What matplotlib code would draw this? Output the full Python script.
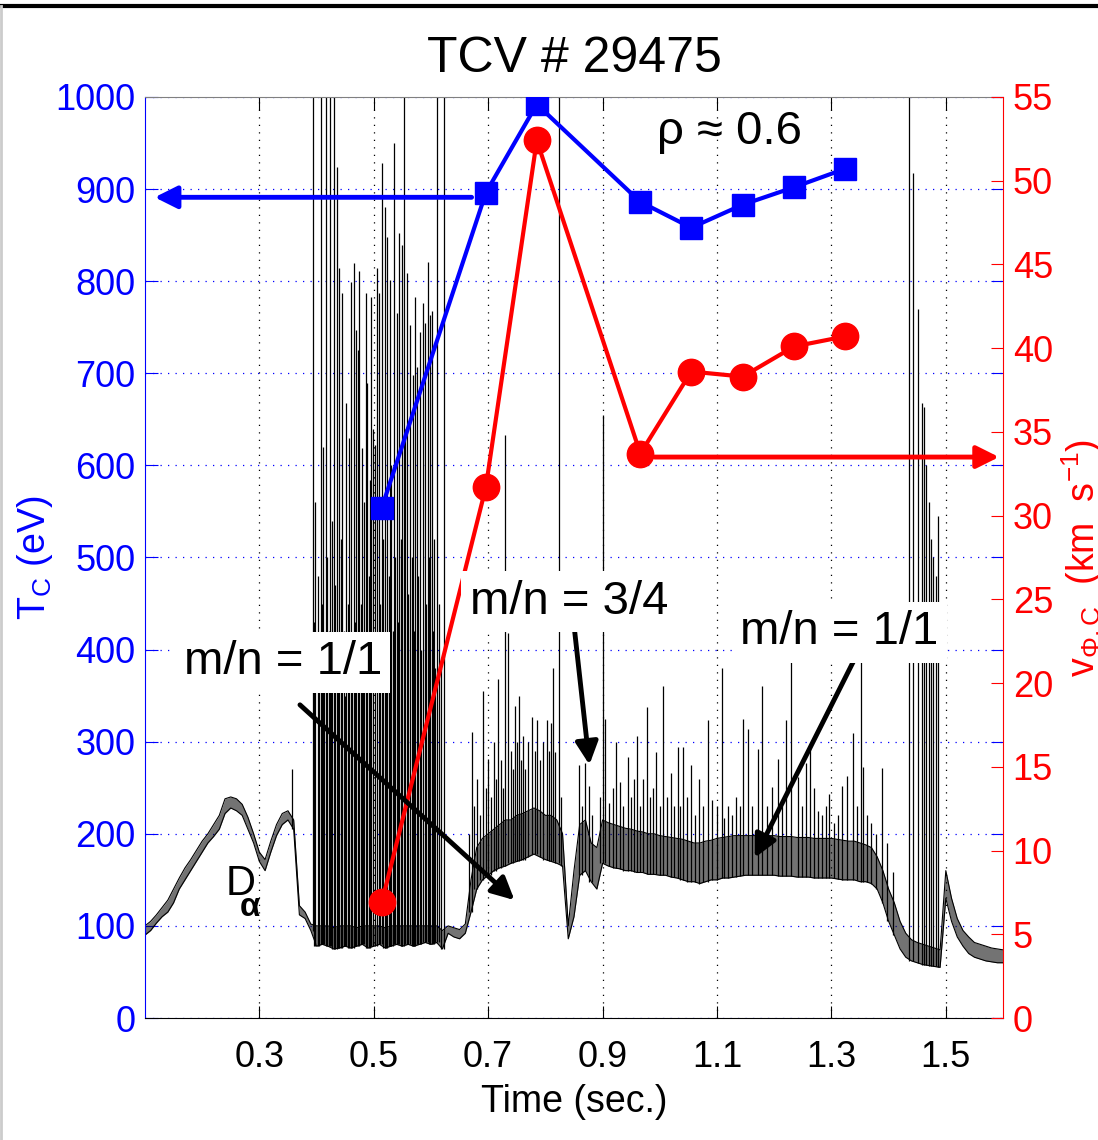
import numpy as np
import matplotlib.pyplot as plt
from matplotlib.lines import Line2D

plt.rcParams['font.family'] = ['Liberation Sans', 'DejaVu Sans']
plt.rcParams['mathtext.fontset'] = 'custom'
plt.rcParams['mathtext.rm'] = 'Liberation Sans'
plt.rcParams['mathtext.it'] = 'Liberation Sans'

# CXRS profile points at rho ~ 0.6
t_cxrs = [0.514, 0.696, 0.785, 0.966, 1.055, 1.145, 1.235, 1.324]
T_c = [554, 896, 992, 886, 858, 883, 902, 922]            # eV
v_phi = [6.9, 31.7, 52.4, 33.7, 38.6, 38.3, 40.1, 40.7]   # km/s

# D-alpha trace (arb. units, drawn on the eV scale), every 10 ms:
# lower and upper edge of the noisy signal band
da_t = np.round(np.arange(0.10, 1.605, 0.01), 2)
da_low = [90, 95, 103, 110, 115, 125, 140, 150, 160, 170,
          180, 190, 197, 205, 222, 228, 225, 220, 205, 190,
          170, 160, 180, 198, 210, 215, 205, 112, 108, 95,
          78, 80, 78, 75, 76, 78, 76, 78, 80, 76,
          78, 80, 76, 78, 80, 78, 80, 78, 80, 82,
          80, 82, 75, 92, 88, 86, 92, 115, 140, 150,
          155, 160, 163, 165, 168, 170, 172, 175, 178, 175,
          172, 170, 168, 165, 86, 110, 155, 160, 148, 140,
          168, 165, 163, 162, 160, 160, 158, 158, 156, 156,
          155, 155, 153, 152, 150, 148, 148, 146, 148, 150,
          150, 152, 152, 153, 154, 155, 155, 155, 155, 155,
          155, 154, 154, 154, 153, 153, 153, 152, 152, 152,
          152, 151, 150, 150, 150, 148, 148, 146, 140, 125,
          105, 90, 75, 66, 62, 60, 58, 57, 56, 55,
          130, 105, 88, 78, 70, 66, 64, 62, 61, 60,
          60]
da_high = [100, 105, 112, 120, 128, 140, 152, 163, 172, 182,
           192, 200, 210, 220, 238, 240, 238, 232, 218, 200,
           180, 172, 192, 210, 222, 225, 215, 122, 115, 102,
           100, 100, 100, 98, 100, 100, 100, 98, 100, 100,
           100, 100, 98, 100, 100, 100, 100, 100, 100, 100,
           100, 100, 95, 100, 98, 96, 102, 150, 185, 195,
           200, 205, 210, 215, 215, 220, 222, 225, 228, 225,
           220, 220, 215, 200, 100, 160, 210, 215, 190, 185,
           215, 212, 210, 208, 206, 205, 203, 202, 200, 200,
           198, 197, 196, 195, 194, 192, 190, 190, 192, 193,
           195, 196, 197, 198, 198, 198, 198, 198, 198, 198,
           198, 197, 197, 197, 196, 196, 196, 195, 195, 195,
           195, 194, 193, 192, 192, 190, 188, 185, 175, 160,
           140, 125, 105, 92, 85, 82, 80, 78, 76, 74,
           160, 130, 108, 95, 88, 82, 80, 78, 76, 75,
           74]

# D-alpha spikes (ELMs / sawtooth crashes): time and peak level
spike_t = [0.357,
           0.393, 0.396, 0.398, 0.402, 0.404, 0.407, 0.409, 0.411, 0.413, 0.416,
           0.419, 0.421, 0.423, 0.425, 0.427, 0.430, 0.433, 0.435, 0.438, 0.440,
           0.442, 0.445, 0.448, 0.450, 0.452, 0.455, 0.457, 0.460, 0.462, 0.465,
           0.467, 0.469, 0.472, 0.474, 0.477, 0.479, 0.481, 0.483, 0.486, 0.489,
           0.491, 0.493, 0.496, 0.499, 0.502, 0.505, 0.509, 0.511, 0.514, 0.516,
           0.519, 0.521, 0.524, 0.526, 0.528, 0.531, 0.533, 0.535, 0.538, 0.540,
           0.542, 0.544, 0.547, 0.549, 0.552, 0.555, 0.558, 0.560, 0.563, 0.566,
           0.568, 0.570, 0.572, 0.575, 0.578, 0.580, 0.583, 0.586, 0.589, 0.592,
           0.594, 0.596, 0.598, 0.601, 0.603, 0.605, 0.607, 0.610, 0.614, 0.618,
           0.622,
           0.666, 0.671, 0.676, 0.681, 0.686, 0.691, 0.696, 0.700, 0.705, 0.710,
           0.714, 0.718, 0.722, 0.726, 0.729, 0.735, 0.740, 0.744, 0.747, 0.751,
           0.754, 0.758, 0.761, 0.765, 0.770, 0.776, 0.781, 0.785, 0.790, 0.795,
           0.802, 0.806, 0.809, 0.814, 0.817, 0.823, 0.828, 0.858, 0.864, 0.870,
           0.876, 0.881, 0.895, 0.900, 0.905, 0.912, 0.918, 0.924, 0.930, 0.936,
           0.944, 0.950, 0.955, 0.961, 0.966, 0.971, 0.977, 0.983, 0.988, 0.993,
           1.000, 1.005, 1.012, 1.019, 1.025, 1.031, 1.036, 1.041, 1.048, 1.055,
           1.061, 1.068, 1.076, 1.085, 1.092, 1.100, 1.108, 1.113, 1.120, 1.127,
           1.134, 1.140, 1.146, 1.155, 1.162, 1.171, 1.179, 1.188, 1.197, 1.207,
           1.214, 1.220, 1.230, 1.241, 1.248, 1.255, 1.262, 1.270, 1.277, 1.284,
           1.290, 1.296, 1.305, 1.312, 1.319, 1.328, 1.337, 1.344, 1.351, 1.356,
           1.363, 1.370, 1.378, 1.389, 1.398, 1.408,
           1.436, 1.443, 1.452, 1.458, 1.461, 1.465, 1.470, 1.474, 1.478, 1.482,
           1.486]
spike_top = [270,
             1100, 430, 560, 480, 390, 1100, 450, 620, 360, 1100,
             500, 420, 1100, 380, 540, 1100, 470, 924, 400, 814,
             520, 787, 420, 350, 668, 450, 630, 799, 380, 820,
             430, 747, 725, 811, 450, 619, 400, 560, 787, 689,
             480, 584, 783, 640, 622, 814, 787, 450, 928, 520,
             880, 400, 848, 480, 801, 600, 420, 950, 500, 765,
             430, 852, 520, 839, 1100, 640, 809, 460, 752, 500,
             698, 420, 783, 707, 480, 745, 400, 776, 754, 450,
             821, 500, 763, 768, 420, 520, 380, 1100, 450, 380,
             1100,
             200, 310, 230, 260, 220, 355, 250, 281, 240, 300,
             260, 368, 280, 250, 633, 418, 290, 270, 339, 300,
             350, 280, 306, 270, 300, 327, 290, 323, 280, 300,
             324, 290, 320, 380, 289, 1100, 240, 275, 230, 277,
             252, 220, 240, 655, 325, 233, 250, 300, 256, 230,
             283, 240, 260, 306, 230, 260, 338, 240, 250, 289,
             230, 360, 240, 266, 230, 294, 230, 294, 240, 275,
             220, 259, 230, 324, 237, 230, 380, 217, 230, 220,
             240, 230, 325, 314, 230, 292, 360, 230, 251, 281,
             230, 323, 400, 262, 230, 277, 296, 250, 225, 220,
             230, 243, 212, 220, 252, 263, 309, 230, 410, 273,
             220, 212, 200, 271, 190, 158,
             1100, 917, 770, 668, 663, 600, 560, 520, 500, 480,
             545]

x_ticks = [0.3, 0.5, 0.7, 0.9, 1.1, 1.3, 1.5]
T_ticks = list(range(0, 1001, 100))
v_ticks = list(range(0, 56, 5))

fig = plt.figure(figsize=(10.98, 11.4), dpi=100)
ax = fig.add_axes([0.132, 0.107, 0.7815, 0.808])
ax2 = ax.twinx()

# D-alpha
spike_floor = [da_low[int(round((s - 0.10) / 0.01))] for s in spike_t]
ax.fill_between(da_t, da_low, da_high, color='black', alpha=0.55, lw=0, zorder=2)
ax.plot(da_t, da_low, color='black', lw=0.8, zorder=2)
ax.plot(da_t, da_high, color='black', lw=0.8, zorder=2)
ax.vlines(spike_t, spike_floor, spike_top, color='black', lw=0.9, zorder=2)

# Tc
ax.plot(t_cxrs, T_c, color='blue', lw=3, marker='s', markersize=16, zorder=4)
# v_phi
ax2.plot(t_cxrs, v_phi, color='red', lw=3, marker='o', markersize=19, zorder=4)

ax.set_xlim(0.1, 1.6)
ax.set_ylim(0, 1000)
ax2.set_ylim(0, 55)
ax.set_xticks(x_ticks)
ax.set_yticks(T_ticks)
ax2.set_yticks(v_ticks)

ax.set_axisbelow(True)
ax.xaxis.grid(True, color='black', linestyle=(0, (1, 5)), lw=0.9)
ax.yaxis.grid(True, color='blue', linestyle=(0, (1, 5)), lw=0.9)

ax.tick_params(axis='x', direction='in', length=9, top=True, labelsize=26, pad=16)
ax.tick_params(axis='y', direction='in', length=9, right=True, colors='blue', labelsize=26, pad=7)
ax2.tick_params(axis='y', direction='in', length=9, colors='red', labelsize=26, pad=7)

ax.spines['left'].set_color('blue')
ax.spines['top'].set_color('gray')
ax.spines['right'].set_visible(False)
for s in ['left', 'top', 'bottom']:
    ax2.spines[s].set_visible(False)
ax2.spines['right'].set_color('red')

ax.set_xlabel('Time (sec.)', fontsize=27, labelpad=6)
ax.set_ylabel(r'T$_{\mathrm{C}}$ (eV)', color='blue', fontsize=27)
ax.yaxis.set_label_coords(-0.105, 0.5)
ax2.set_ylabel(r'v$_{\Phi,\mathrm{C}}$  (km  s$^{-1}$)', color='red', fontsize=27, rotation=90)
ax2.yaxis.set_label_coords(1.066, 0.5)

ax.set_title('TCV # 29475', fontsize=36, pad=18)

# texts
tkw = dict(fontsize=34, ha='center', va='center', zorder=10, transform=ax.transData)
box = dict(facecolor='white', edgecolor='none', pad=6)
ax2.text(1.122, 962, 'ρ ≈ 0.6', **tkw)
ax2.text(0.341, 386, 'm/n = 1/1', bbox=box, **tkw)
ax2.text(0.841, 452, 'm/n = 3/4', bbox=box, **tkw)
ax2.text(1.314, 419, 'm/n = 1/1', bbox=box, **tkw)
ax2.text(0.268, 146, 'D', fontsize=30, ha='center', va='center', transform=ax.transData, zorder=10)
ax2.text(0.284, 120, 'α', fontsize=24, fontweight='bold',
         ha='center', va='center', transform=ax.transData, zorder=10)

# arrows
def arrow(tail, head, color):
    ax2.annotate('', xy=head, xytext=tail, xycoords=ax.transData, textcoords=ax.transData,
                 arrowprops=dict(arrowstyle='-|>', lw=3.5, color=color, mutation_scale=34,
                                 shrinkA=0, shrinkB=0), zorder=9)

arrow((0.671, 891), (0.117, 891), 'blue')
arrow((0.991, 609), (1.593, 609), 'red')
arrow((0.371, 340), (0.746, 128), 'black')
arrow((0.851, 421), (0.877, 275), 'black')
arrow((1.340, 389), (1.166, 174), 'black')

# outer frame of the figure
fig.add_artist(Line2D([0, 1], [0.995, 0.995], color='black', lw=3, transform=fig.transFigure))
fig.add_artist(Line2D([0.001, 0.001], [0, 0.995], color='#cccccc', lw=2, transform=fig.transFigure))

fig.savefig('out.png', dpi=100)
